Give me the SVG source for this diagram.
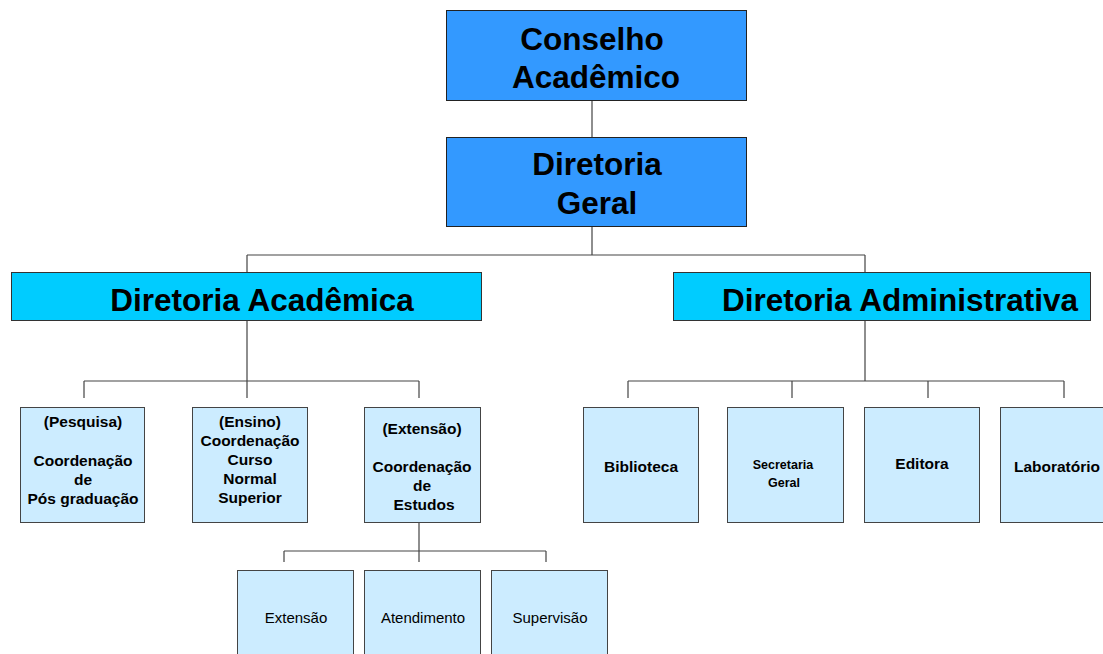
<svg xmlns="http://www.w3.org/2000/svg" width="1103" height="654" viewBox="0 0 1103 654">
<style>
.top{fill:#3399FF;stroke:#222;stroke-width:1}
.mid{fill:#00CCFF;stroke:#333;stroke-width:1}
.leaf{fill:#CCECFF;stroke:#444;stroke-width:1}
.big{font-family:"Liberation Sans",Arial,sans-serif;font-weight:bold;font-size:31.5px;fill:#000;text-anchor:middle}
.sm{font-family:"Liberation Sans",Arial,sans-serif;font-weight:bold;font-size:15.5px;fill:#000;text-anchor:middle}
.xs{font-family:"Liberation Sans",Arial,sans-serif;font-weight:bold;font-size:12.5px;fill:#000;text-anchor:middle}
.nr{font-family:"Liberation Sans",Arial,sans-serif;font-size:15px;fill:#000;text-anchor:middle}
.ln{fill:none;stroke:#444;stroke-width:1.2}
</style>
<rect width="1103" height="654" fill="#fff"/>
<g id="connectors">
<path class="ln" d="M592 100V137M592 226V255M247 255H865M247 255V272M865 255V272"/>
<path class="ln" d="M247 320V381M84 381H419M84 381V398M247 381V398M419 381V398"/>
<path class="ln" d="M865 320V381M628 381H1064M628 381V398M792 381V398M928 381V398M1064 381V398"/>
<path class="ln" d="M419 522V562M284 551H546M284 551V562M546 551V562"/>
</g>
<g id="conselho"><rect class="top" x="446.5" y="10.5" width="300" height="90"/>
<text class="big" x="592" y="50">Conselho</text><text class="big" x="596" y="88">Acadêmico</text></g>
<g id="diretoria-geral"><rect class="top" x="446.5" y="137.5" width="300" height="89"/>
<text class="big" x="597" y="175">Diretoria</text><text class="big" x="597" y="214">Geral</text></g>
<g id="dir-academica"><rect class="mid" x="11.5" y="272.5" width="470" height="48"/>
<text class="big" x="262" y="311">Diretoria Acadêmica</text></g>
<g id="dir-administrativa"><rect class="mid" x="673.5" y="272.5" width="417" height="48"/>
<text class="big" x="900" y="311">Diretoria Administrativa</text></g>
<g id="pesquisa"><rect class="leaf" x="20.5" y="407.5" width="124" height="115"/>
<text class="sm" x="83" y="427">(Pesquisa)</text><text class="sm" x="83" y="466">Coordenação</text><text class="sm" x="83" y="485">de</text><text class="sm" x="83" y="504">Pós graduação</text></g>
<g id="ensino"><rect class="leaf" x="192.5" y="407.5" width="115" height="115"/>
<text class="sm" x="250" y="427">(Ensino)</text><text class="sm" x="250" y="446">Coordenação</text><text class="sm" x="250" y="465">Curso</text><text class="sm" x="250" y="484">Normal</text><text class="sm" x="250" y="503">Superior</text></g>
<g id="extensao-coord"><rect class="leaf" x="364.5" y="407.5" width="116" height="115"/>
<text class="sm" x="422" y="434">(Extensão)</text><text class="sm" x="422" y="472">Coordenação</text><text class="sm" x="422" y="491">de</text><text class="sm" x="424" y="510">Estudos</text></g>
<g id="biblioteca"><rect class="leaf" x="583.5" y="407.5" width="115" height="115"/>
<text class="sm" x="641" y="472">Biblioteca</text></g>
<g id="secretaria"><rect class="leaf" x="727.5" y="407.5" width="116" height="115"/>
<text class="xs" x="783" y="469">Secretaria</text><text class="xs" x="784" y="487">Geral</text></g>
<g id="editora"><rect class="leaf" x="864.5" y="407.5" width="115" height="115"/>
<text class="sm" x="922" y="469">Editora</text></g>
<g id="laboratorio"><rect class="leaf" x="1000.5" y="407.5" width="115" height="115"/>
<text class="sm" x="1057" y="472">Laboratório</text></g>
<g id="extensao"><rect class="leaf" x="237.5" y="570.5" width="116" height="100"/>
<text class="nr" x="296" y="623">Extensão</text></g>
<g id="atendimento"><rect class="leaf" x="364.5" y="570.5" width="116" height="100"/>
<text class="nr" x="423" y="623">Atendimento</text></g>
<g id="supervisao"><rect class="leaf" x="491.5" y="570.5" width="116" height="100"/>
<text class="nr" x="550" y="623">Supervisão</text></g>
</svg>
